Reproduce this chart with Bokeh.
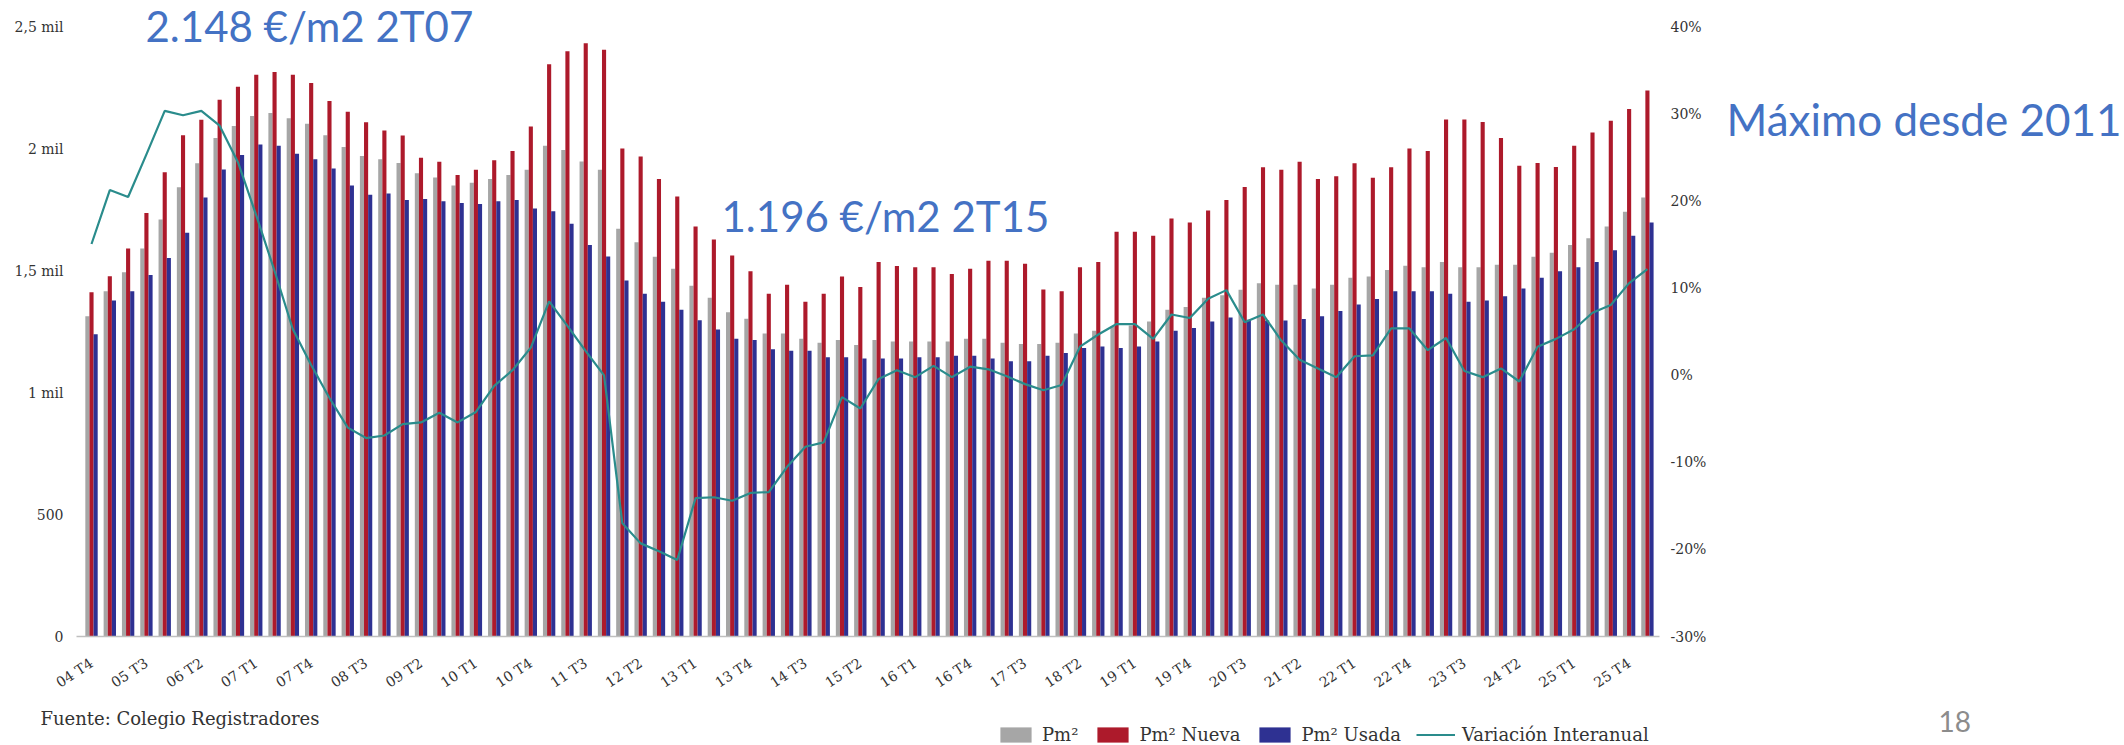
from bokeh.plotting import figure
from bokeh.layouts import column, row
from bokeh.models import (ColumnDataSource, Range1d, LinearAxis, FixedTicker,
                          Legend, LegendItem, Label)
from bokeh.transform import dodge
from bokeh.embed import file_html
from bokeh.resources import INLINE

quarters = [
    "04 T4",
    "05 T1", "05 T2", "05 T3", "05 T4",
    "06 T1", "06 T2", "06 T3", "06 T4",
    "07 T1", "07 T2", "07 T3", "07 T4",
    "08 T1", "08 T2", "08 T3", "08 T4",
    "09 T1", "09 T2", "09 T3", "09 T4",
    "10 T1", "10 T2", "10 T3", "10 T4",
    "11 T1", "11 T2", "11 T3", "11 T4",
    "12 T1", "12 T2", "12 T3", "12 T4",
    "13 T1", "13 T2", "13 T3", "13 T4",
    "14 T1", "14 T2", "14 T3", "14 T4",
    "15 T1", "15 T2", "15 T3", "15 T4",
    "16 T1", "16 T2", "16 T3", "16 T4",
    "17 T1", "17 T2", "17 T3", "17 T4",
    "18 T1", "18 T2", "18 T3", "18 T4",
    "19 T1", "19 T2", "19 T3", "19 T4",
    "20 T1", "20 T2", "20 T3", "20 T4",
    "21 T1", "21 T2", "21 T3", "21 T4",
    "22 T1", "22 T2", "22 T3", "22 T4",
    "23 T1", "23 T2", "23 T3", "23 T4",
    "24 T1", "24 T2", "24 T3", "24 T4",
    "25 T1", "25 T2", "25 T3", "25 T4",
    "26 T1",
]

pm2 = [1314, 1417, 1495, 1592, 1711, 1844, 1942, 2046, 2095, 2136,
       2148, 2127, 2104, 2057, 2009, 1972, 1959, 1943, 1901, 1884,
       1851, 1862, 1878, 1894, 1916, 2014, 1997, 1949, 1916, 1673,
       1618, 1558, 1509, 1439, 1390, 1331, 1304, 1244, 1244, 1222,
       1206, 1217, 1196, 1217, 1211, 1211, 1211, 1211, 1222, 1222,
       1206, 1200, 1200, 1206, 1244, 1255, 1271, 1276, 1293, 1341,
       1352, 1390, 1400, 1423, 1450, 1444, 1444, 1428, 1444, 1472,
       1477, 1504, 1522, 1515, 1537, 1515, 1515, 1526, 1526, 1558,
       1575, 1607, 1634, 1683, 1743, 1802]

pm2_nueva = [1413, 1478, 1592, 1738, 1905, 2057, 2121, 2203, 2256, 2305,
             2317, 2305, 2272, 2198, 2154, 2110, 2077, 2056, 1965, 1948,
             1894, 1915, 1954, 1992, 2093, 2348, 2402, 2435, 2408, 2003,
             1970, 1878, 1806, 1683, 1629, 1564, 1499, 1407, 1444, 1374,
             1407, 1477, 1434, 1537, 1520, 1515, 1515, 1488, 1509, 1542,
             1542, 1530, 1424, 1417, 1515, 1537, 1661, 1661, 1645, 1715,
             1699, 1748, 1791, 1845, 1926, 1916, 1948, 1878, 1889, 1942,
             1883, 1926, 2003, 1992, 2122, 2122, 2111, 2046, 1932, 1943,
             1927, 2014, 2068, 2117, 2165, 2241]

pm2_usada = [1240, 1379, 1417, 1484, 1553, 1657, 1802, 1917, 1976, 2019,
             2014, 1981, 1959, 1921, 1851, 1813, 1818, 1791, 1795, 1786,
             1779, 1775, 1786, 1791, 1756, 1745, 1694, 1607, 1560, 1461,
             1407, 1374, 1341, 1298, 1260, 1222, 1217, 1179, 1173, 1173,
             1146, 1146, 1141, 1141, 1141, 1146, 1146, 1152, 1152, 1141,
             1130, 1130, 1152, 1163, 1184, 1190, 1184, 1190, 1211, 1255,
             1266, 1293, 1309, 1300, 1297, 1297, 1303, 1314, 1336, 1363,
             1385, 1417, 1417, 1417, 1407, 1374, 1379, 1396, 1428, 1472,
             1499, 1515, 1537, 1585, 1645, 1699]

variacion = [15.1, 21.3, 20.5, 25.4, 30.4, 29.9, 30.4, 28.7, 24.5, 18.4,
             12.0, 5.3, 1.2, -2.6, -6.0, -7.2, -6.9, -5.6, -5.4, -4.3,
             -5.4, -4.2, -1.2, 0.6, 3.2, 8.5, 5.7, 2.8, 0.0, -17.0,
             -19.3, -20.2, -21.2, -14.1, -14.0, -14.4, -13.5, -13.4, -10.5, -8.2,
             -7.7, -2.5, -3.8, -0.4, 0.6, -0.2, 1.1, -0.2, 1.0, 0.7,
             -0.1, -1.0, -1.7, -1.1, 3.3, 4.7, 5.9, 5.9, 4.2, 7.0,
             6.6, 8.8, 9.8, 6.1, 7.0, 4.0, 1.8, 0.8, -0.2, 2.2,
             2.3, 5.4, 5.4, 2.9, 4.3, 0.5, -0.2, 0.8, -0.7, 3.3,
             4.2, 5.3, 7.2, 8.1, 10.6, 12.2]

left_ticks = [0, 500, 1000, 1500, 2000, 2500]
left_tick_labels = ["0", "500", "1 mil", "1,5 mil", "2 mil", "2,5 mil"]
right_ticks = [-30, -20, -10, 0, 10, 20, 30, 40]
right_tick_labels = ["-30%", "-20%", "-10%", "0%", "10%", "20%", "30%", "40%"]

GRAY = "#A6A6A6"
RED = "#AD1A2B"
BLUE = "#2E3192"
TEAL = "#2A8C8C"
TXT = "#333333"
ANN = "#4472C4"
SERIF = "DejaVu Serif"

# ---------------- main chart ----------------
W_MAIN, H_TOP = 1720, 700
FRAME_BOTTOM = 640
idx = list(range(len(quarters)))
src = ColumnDataSource(dict(x=idx, q=quarters, pm2=pm2, nueva=pm2_nueva,
                            usada=pm2_usada, var=variacion))

# frame: x 76..1659, y 0..640 ; value 0 at 640 px, 2500 at 27 px
p = figure(width=W_MAIN, height=H_TOP,
           x_range=Range1d(-0.82, 85.66), y_range=Range1d(0, 2610.1),
           output_backend="svg", toolbar_location=None,
           min_border_left=76, min_border_right=W_MAIN - 1659,
           min_border_top=0, min_border_bottom=H_TOP - FRAME_BOTTOM)
p.extra_y_ranges = {"pct": Range1d(-30, 43.08)}
p.outline_line_color = None
p.xgrid.visible = False
p.ygrid.visible = False
p.background_fill_color = "white"
p.border_fill_color = "white"

bw = 0.225
r_gray = p.vbar(x=dodge("x", -bw, range=p.x_range), top="pm2", width=bw,
                source=src, fill_color=GRAY, line_color=None)
r_red = p.vbar(x="x", top="nueva", width=bw,
               source=src, fill_color=RED, line_color=None)
r_blue = p.vbar(x=dodge("x", bw, range=p.x_range), top="usada", width=bw,
                source=src, fill_color=BLUE, line_color=None)
r_line = p.line(x="x", y="var", source=src, y_range_name="pct",
                line_color=TEAL, line_width=2.2)

xa = p.xaxis[0]
tick_idx = idx[0:85:3]
xa.ticker = FixedTicker(ticks=tick_idx)
xa.major_label_overrides = {i: quarters[i] for i in tick_idx}
xa.major_label_orientation = 0.58
xa.axis_line_color = "#BFBFBF"
xa.axis_line_width = 1.5
xa.major_tick_line_color = None
xa.minor_tick_line_color = None
xa.major_tick_out = 0
xa.major_label_standoff = 25
xa.major_label_text_font = SERIF
xa.major_label_text_font_size = "14px"
xa.major_label_text_color = TXT

ya = p.yaxis[0]
ya.ticker = FixedTicker(ticks=left_ticks)
ya.major_label_overrides = dict(zip(left_ticks, left_tick_labels))
ya.axis_line_color = None
ya.major_tick_line_color = None
ya.minor_tick_line_color = None
ya.major_tick_out = 0
ya.major_label_standoff = 13
ya.major_label_text_font = SERIF
ya.major_label_text_font_size = "14px"
ya.major_label_text_color = TXT

ra = LinearAxis(y_range_name="pct")
ra.ticker = FixedTicker(ticks=right_ticks)
ra.major_label_overrides = dict(zip(right_ticks, right_tick_labels))
ra.axis_line_color = None
ra.major_tick_line_color = None
ra.minor_tick_line_color = None
ra.major_tick_out = 0
ra.major_label_standoff = 11
ra.major_label_text_font = SERIF
ra.major_label_text_font_size = "14px"
ra.major_label_text_color = TXT
p.add_layout(ra, "right")


def ann(fig, text, x, y, size, color, font="Lato"):
    # y = vertical centre of the text, in px above the frame bottom
    fig.add_layout(Label(x=x, y=y, x_units="screen", y_units="screen",
                         text=text, text_font=font, text_font_size=size,
                         text_color=color, text_baseline="middle",
                         text_align="left"))


ann(p, "2.148 €/m2 2T07", 69, FRAME_BOTTOM - 29, "42px", ANN)
ann(p, "1.196 €/m2 2T15", 645, FRAME_BOTTOM - 219, "42px", ANN)


def blank(w, h, bottom=0):
    f = figure(width=w, height=h, x_range=Range1d(0, 1), y_range=Range1d(0, 1),
               output_backend="svg", toolbar_location=None,
               x_axis_location=None, y_axis_location=None,
               min_border=0, min_border_left=0, min_border_right=0,
               min_border_top=0, min_border_bottom=bottom)
    f.outline_line_color = None
    f.grid.visible = False
    f.background_fill_color = "white"
    f.border_fill_color = "white"
    return f


# ---------------- right side annotation ----------------
side = blank(2124 - W_MAIN, H_TOP, bottom=H_TOP - FRAME_BOTTOM)
ann(side, "Máximo desde 2011", 6, FRAME_BOTTOM - 122, "44px", ANN)

# ---------------- bottom strip: source, legend, page number ----------------
H_BOT = 745 - H_TOP
bot = blank(2124, H_BOT)
g_gray = bot.vbar(x=[5], top=[5], bottom=[4], width=0.1, fill_color=GRAY, line_color=None)
g_red = bot.vbar(x=[5], top=[5], bottom=[4], width=0.1, fill_color=RED, line_color=None)
g_blue = bot.vbar(x=[5], top=[5], bottom=[4], width=0.1, fill_color=BLUE, line_color=None)
g_line = bot.line(x=[5, 6], y=[5, 5], line_color=TEAL, line_width=2.2)
legend = Legend(items=[
    LegendItem(label="Pm²", renderers=[g_gray]),
    LegendItem(label="Pm² Nueva", renderers=[g_red]),
    LegendItem(label="Pm² Usada", renderers=[g_blue]),
    LegendItem(label="Variación Interanual", renderers=[g_line]),
], orientation="horizontal", location=(996, 0),
    glyph_width=39, glyph_height=19, label_standoff=7, spacing=15,
    padding=0, margin=0, border_line_color=None, background_fill_alpha=0,
    label_text_font=SERIF, label_text_font_size="18px",
    label_text_color=TXT)
bot.add_layout(legend)
ann(bot, "Fuente: Colegio Registradores", 40, 745 - 718, "18px", TXT, SERIF)
ann(bot, "18", 1938, 745 - 721, "28px", "#8C8C8C")

layout = column(row(p, side, spacing=0), bot, spacing=0)
open("out.html", "w").write(file_html(layout, INLINE))
